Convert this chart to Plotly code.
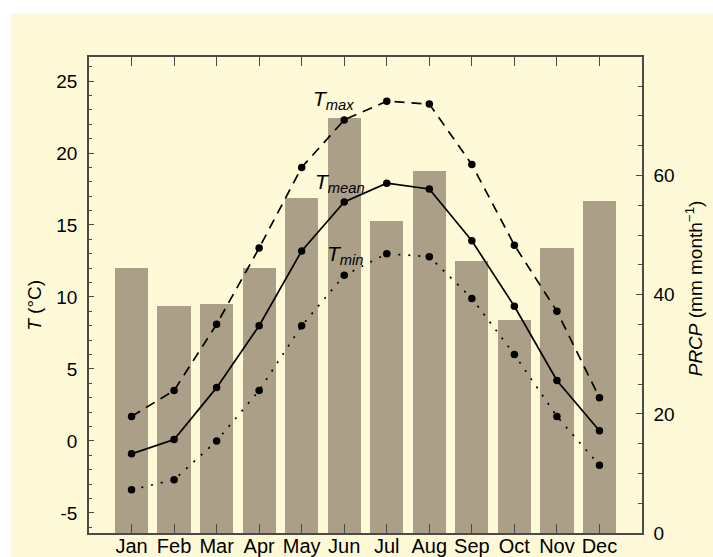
import plotly.graph_objects as go

# Monthly climate normals
months = ["Jan", "Feb", "Mar", "Apr", "May", "Jun",
          "Jul", "Aug", "Sep", "Oct", "Nov", "Dec"]
month_pos = list(range(1, 13))

prcp = [44.4, 38.1, 38.4, 44.4, 56.2, 69.6, 52.3, 60.7, 45.6, 35.7, 47.8, 55.8]   # mm/month
t_max = [1.7, 3.5, 8.1, 13.4, 19.0, 22.3, 23.6, 23.4, 19.2, 13.6, 9.0, 3.0]        # °C
t_mean = [-0.9, 0.1, 3.7, 8.0, 13.2, 16.6, 17.9, 17.5, 13.9, 9.35, 4.2, 0.7]
t_min = [-3.4, -2.7, 0.0, 3.5, 8.0, 11.5, 13.0, 12.8, 9.9, 6.0, 1.7, -1.7]

t_ticks = [-5, 0, 5, 10, 15, 20, 25]
t_ticktext = ["-5", "0", "5", "10", "15", "20", "25"]
p_ticks = [0, 20, 40, 60]

CREAM = "#FEFAD8"
BAR = "#AB9F88"
AXIS = "#4a4a4a"
FONT = "Liberation Sans, Arial, sans-serif"

fig = go.Figure()

# precipitation bars (right-hand scale)
fig.add_trace(go.Bar(
    x=month_pos, y=prcp, width=0.78, marker=dict(color=BAR, line=dict(width=0)),
    yaxis="y", showlegend=False, hoverinfo="skip"))

line_styles = [(t_max, "10px,7px"), (t_mean, "solid"), (t_min, "2px,8px")]
for vals, dash in line_styles:
    fig.add_trace(go.Scatter(
        x=month_pos, y=vals, mode="lines+markers", yaxis="y2",
        line=dict(color="black", width=1.7, dash=dash),
        marker=dict(color="black", size=7.5),
        showlegend=False))

labels = [("max", 5.75, 23.7), ("mean", 5.9, 17.9), ("min", 6.03, 12.9)]
annotations = []
for sub, xx, yy in labels:
    annotations.append(dict(
        x=xx, y=yy, xref="x", yref="y2", showarrow=False,
        xanchor="center", yanchor="middle",
        text=f"<i>T</i><sub><i>{sub}</i></sub>",
        font=dict(family=FONT, size=21, color="black")))

annotations.append(dict(
    x=-0.098, y=0.479, xref="paper", yref="paper", showarrow=False,
    xanchor="center", yanchor="middle",
    text="<i>T</i> (°C)", textangle=-90,
    font=dict(family=FONT, size=19, color="black")))
annotations.append(dict(
    x=1.093, y=0.515, xref="paper", yref="paper", showarrow=False,
    xanchor="center", yanchor="middle",
    text="<i>PRCP</i> (mm month<sup>−1</sup>)", textangle=-90,
    font=dict(family=FONT, size=19, color="black")))

fig.update_layout(
    width=713, height=557,
    margin=dict(l=89, r=71, t=57, b=24, pad=0),
    paper_bgcolor=CREAM, plot_bgcolor=CREAM,
    font=dict(family=FONT, size=19, color="black"),
    bargap=0,
    xaxis=dict(
        range=[0, 13], tickvals=month_pos, ticktext=months,
        ticks="inside", ticklen=9, tickwidth=1.2, tickcolor=AXIS,
        showline=True, linecolor=AXIS, linewidth=1.5, mirror="ticks",
        showgrid=False, zeroline=False, ticklabelstandoff=-6,
        automargin=False, tickfont=dict(size=20),
    ),
    yaxis=dict(
        side="right", range=[0, 79.9], tickvals=p_ticks,
        ticks="inside", ticklen=6, tickwidth=1.2, tickcolor=AXIS,
        minor=dict(dtick=5, ticks="inside", ticklen=4, tickcolor=AXIS, tickwidth=1),
        showline=True, linecolor=AXIS, linewidth=1.5,
        showgrid=False, zeroline=False, ticklabelstandoff=6,
        automargin=False,
    ),
    yaxis2=dict(
        overlaying="y", side="left", range=[-6.4, 26.67],
        tickvals=t_ticks, ticktext=t_ticktext,
        ticks="inside", ticklen=5, tickwidth=1.2, tickcolor=AXIS,
        minor=dict(dtick=1, ticks="inside", ticklen=3, tickcolor=AXIS, tickwidth=1),
        showline=True, linecolor=AXIS, linewidth=1.5,
        showgrid=False, zeroline=False, ticklabelstandoff=6,
        automargin=False,
    ),
    annotations=annotations,
    shapes=[
        # white strips along the top and left edges of the page
        dict(type="rect", xref="paper", yref="paper", x0=-0.2, x1=1.2,
             y0=1.0924, y1=1.2, fillcolor="white", line=dict(width=0), layer="below"),
        dict(type="rect", xref="paper", yref="paper", x0=-0.2, x1=-0.1411,
             y0=-0.1, y1=1.2, fillcolor="white", line=dict(width=0), layer="below"),
    ],
)

fig.write_html("out.html")
